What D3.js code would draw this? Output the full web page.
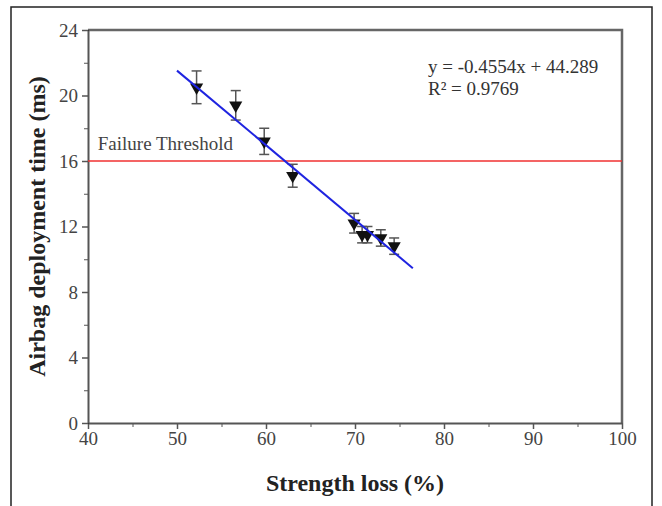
<!DOCTYPE html>
<html>
<head>
<meta charset="utf-8">
<script src="https://cdn.jsdelivr.net/npm/d3@7"></script>
<style>
  body { margin: 0; background: #fff; }
  svg { display: block; font-family: "Liberation Serif", "DejaVu Serif", serif; }
</style>
</head>
<body>
<svg id="chart" width="662" height="506"></svg>
<script>
// strength loss (%) vs airbag deployment time (ms)
const strengthLoss = [52.2, 56.6, 59.8, 63.0, 69.9, 70.8, 71.4, 72.9, 74.4];
const deployTime   = [20.5, 19.4, 17.2, 15.1, 12.2, 11.5, 11.5, 11.3, 10.8];
const timeError    = [1.0, 0.9, 0.8, 0.7, 0.6, 0.5, 0.5, 0.5, 0.5];
const fitSlope = -0.4554, fitIntercept = 44.289;
const fitRange = [50, 76.5];
const threshold = 16;
const xTicks = [40, 50, 60, 70, 80, 90, 100];
const yTicks = [0, 4, 8, 12, 16, 20, 24];

const svg = d3.select("#chart");
const margin = {left: 88, right: 40, top: 30, bottom: 83};
const W = 662, H = 506;

// outer frame
svg.append("rect")
    .attr("x", 11).attr("y", 7)
    .attr("width", 641).attr("height", 510)
    .attr("fill", "none").attr("stroke", "#222").attr("stroke-width", 1.5);

const x = d3.scaleLinear().domain([40, 100]).range([margin.left, W - margin.right]);
const y = d3.scaleLinear().domain([0, 24]).range([H - margin.bottom, margin.top]);

const axisColor = "#555";
const tickFont = 19;

// box top/right
svg.append("path")
    .attr("d", `M${x(40)},${y(24)}H${x(100)}V${y(0)}`)
    .attr("fill", "none").attr("stroke", "#666").attr("stroke-width", 2.5);

// minor ticks
svg.append("g").attr("transform", `translate(0,${y(0)})`)
    .call(d3.axisBottom(x).tickValues(d3.range(45, 100, 10)).tickSize(4).tickFormat(""))
    .call(g => g.selectAll(".tick line").attr("stroke", axisColor));
const gx = svg.append("g").attr("transform", `translate(0,${y(0)})`)
    .call(d3.axisBottom(x).tickValues(xTicks).tickSize(6).tickSizeOuter(0).tickPadding(3));
gx.select(".domain").attr("stroke", axisColor).attr("stroke-width", 2);
gx.selectAll(".tick line").attr("stroke", axisColor).attr("stroke-width", 1.5);
gx.selectAll("text").attr("font-size", tickFont).attr("fill", "#444").attr("font-family", "Liberation Serif");

svg.append("g").attr("transform", `translate(${x(40)},0)`)
    .call(d3.axisLeft(y).tickValues(d3.range(2, 24, 4)).tickSize(4).tickFormat(""))
    .call(g => g.selectAll(".tick line").attr("stroke", axisColor));
const gy = svg.append("g").attr("transform", `translate(${x(40)},0)`)
    .call(d3.axisLeft(y).tickValues(yTicks).tickSize(6).tickSizeOuter(0).tickPadding(4));
gy.select(".domain").attr("stroke", axisColor).attr("stroke-width", 2);
gy.selectAll(".tick line").attr("stroke", axisColor).attr("stroke-width", 1.5);
gy.selectAll("text").attr("font-size", tickFont).attr("fill", "#444").attr("font-family", "Liberation Serif");

// threshold line
svg.append("line")
    .attr("x1", x(40)).attr("x2", x(100))
    .attr("y1", y(threshold)).attr("y2", y(threshold))
    .attr("stroke", "#f03030").attr("stroke-width", 1.5);
svg.append("text")
    .attr("x", x(41.1)).attr("y", y(threshold) - 11)
    .attr("font-size", 19).attr("fill", "#444")
    .text("Failure Threshold");

// error bars
const pts = strengthLoss.map((s, i) => ({x: s, y: deployTime[i], e: timeError[i]}));
const eb = svg.append("g").attr("stroke", "#555").attr("stroke-width", 1.5);
pts.forEach(d => {
    eb.append("line").attr("x1", x(d.x)).attr("x2", x(d.x))
        .attr("y1", y(d.y - d.e)).attr("y2", y(d.y + d.e));
    [d.y - d.e, d.y + d.e].forEach(v => {
        eb.append("line").attr("x1", x(d.x) - 5).attr("x2", x(d.x) + 5)
            .attr("y1", y(v)).attr("y2", y(v));
    });
});

// markers (down triangles)
svg.append("g").selectAll("path").data(pts).join("path")
    .attr("transform", d => `translate(${x(d.x)},${y(d.y)}) rotate(180)`)
    .attr("d", d3.symbol(d3.symbolTriangle, 75))
    .attr("fill", "#111");

// fit line
svg.append("line")
    .attr("x1", x(fitRange[0])).attr("y1", y(fitSlope * fitRange[0] + fitIntercept))
    .attr("x2", x(fitRange[1])).attr("y2", y(fitSlope * fitRange[1] + fitIntercept))
    .attr("stroke", "#1f24e0").attr("stroke-width", 2);

// equation
svg.append("text").attr("x", 428).attr("y", 73).attr("font-size", 19).attr("fill", "#333")
    .text(`y = ${fitSlope}x + ${fitIntercept}`);
svg.append("text").attr("x", 428).attr("y", 95).attr("font-size", 19).attr("fill", "#333")
    .text("R² = 0.9769");

// axis titles
svg.append("text")
    .attr("x", (x(40) + x(100)) / 2).attr("y", 491)
    .attr("text-anchor", "middle").attr("font-size", 24).attr("font-weight", "bold").attr("fill", "#222")
    .text("Strength loss (%)");
svg.append("text")
    .attr("transform", `translate(45,${(y(0) + y(24)) / 2}) rotate(-90)`)
    .attr("text-anchor", "middle").attr("font-size", 24).attr("font-weight", "bold").attr("fill", "#222")
    .text("Airbag deployment time (ms)");
</script>
</body>
</html>
